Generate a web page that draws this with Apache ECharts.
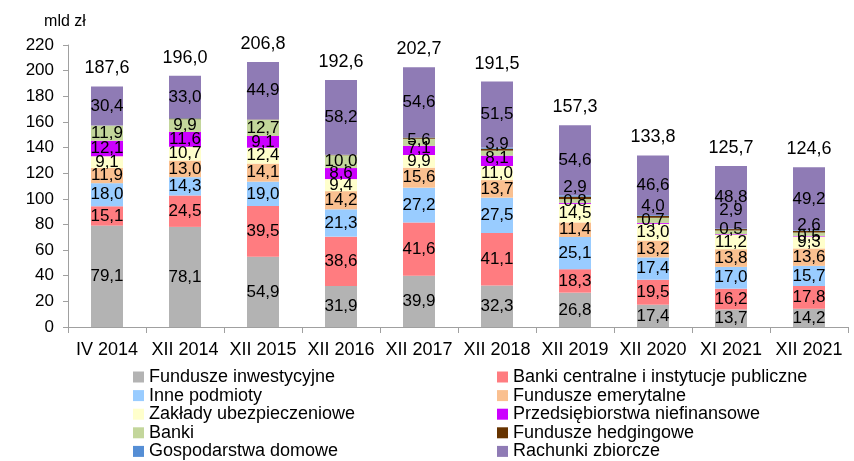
<!DOCTYPE html>
<html>
<head>
<meta charset="utf-8">
<script src="https://cdn.jsdelivr.net/npm/echarts@6/dist/echarts.min.js"></script>
<style>
html,body{margin:0;padding:0;background:#fff;}
#chart{width:854px;height:461px;}
</style>
</head>
<body>
<div id="chart"></div>
<script>
const categories = ['IV 2014','XII 2014','XII 2015','XII 2016','XII 2017','XII 2018','XII 2019','XII 2020','XI 2021','XII 2021'];
const fundInwest   = [79.1, 78.1, 54.9, 31.9, 39.9, 32.3, 26.8, 17.4, 13.7, 14.2];
const bankiCentr   = [15.1, 24.5, 39.5, 38.6, 41.6, 41.1, 18.3, 19.5, 16.2, 17.8];
const innePodm     = [18.0, 14.3, 19.0, 21.3, 27.2, 27.5, 25.1, 17.4, 17.0, 15.7];
const fundEmer     = [11.9, 13.0, 14.1, 14.2, 15.6, 13.7, 11.4, 13.2, 13.8, 13.6];
const zaklUbezp    = [9.1, 10.7, 12.4, 9.4, 9.9, 11.0, 14.5, 13.0, 11.2, 9.3];
const przedsNiefin = [12.1, 11.6, 9.1, 8.6, 7.1, 8.1, 0.8, 0.7, 0.5, 0.5];
const banki        = [11.9, 9.9, 12.7, 10.0, 5.6, 3.9, 2.9, 4.0, 2.9, 2.6];
const fundHedg     = [0.0, 0.6, 0.2, 0.3, 0.9, 1.5, 1.9, 1.4, 1.1, 1.2];
const gospDom      = [0.0, 0.3, 0.0, 0.1, 0.3, 0.9, 1.0, 0.6, 0.5, 0.5];
const rachZbior    = [30.4, 33.0, 44.9, 58.2, 54.6, 51.5, 54.6, 46.6, 48.8, 49.2];
const totals       = [187.6, 196.0, 206.8, 192.6, 202.7, 191.5, 157.3, 133.8, 125.7, 124.6];
const yTicks = [0, 20, 40, 60, 80, 100, 120, 140, 160, 180, 200, 220];

// label nudges (pixels) for crowded small segments, as placed in the original
const bankiLabelShift  = [0, 0, 0, 0, -2, -9, -14, -14, -22, -9];
const przedsLabelShift = [0, 0, 0, 0, -2, -2, -2, -3, -5, 0];

const FONT = 'Liberation Sans, Arial, sans-serif';
const fmt = v => v.toFixed(1).replace('.', ',');

function mk(name, data, color, showLabel, shifts) {
  return {
    name: name, type: 'bar', stack: 'a', barWidth: 32,
    data: data.map((v, i) => shifts && shifts[i] ? { value: v, label: { offset: [0, shifts[i]] } } : v),
    itemStyle: { color: color },
    label: {
      show: showLabel, position: 'inside', color: '#000',
      fontFamily: FONT, fontSize: 17,
      formatter: p => fmt(p.value)
    },
    emphasis: { disabled: true }
  };
}

const series = [
  mk('Fundusze inwestycyjne', fundInwest, '#b3b3b3', true),
  mk('Banki centralne i instytucje publiczne', bankiCentr, '#ff7c80', true),
  mk('Inne podmioty', innePodm, '#99ccff', true),
  mk('Fundusze emerytalne', fundEmer, '#fac090', true),
  mk('Zakłady ubezpieczeniowe', zaklUbezp, '#ffffcc', true),
  mk('Przedsiębiorstwa niefinansowe', przedsNiefin, '#cc00ff', true, przedsLabelShift),
  mk('Banki', banki, '#c3d69b', true, bankiLabelShift),
  mk('Fundusze hedgingowe', fundHedg, '#663300', false),
  mk('Gospodarstwa domowe', gospDom, '#558ed5', false),
  mk('Rachunki zbiorcze', rachZbior, '#8f7bb5', true),
  {
    name: 'Suma', type: 'bar', stack: 'a', barWidth: 32,
    data: totals.map(() => 0),
    itemStyle: { color: 'transparent' },
    label: {
      show: true, position: 'top', distance: 9, color: '#000',
      fontFamily: FONT, fontSize: 18,
      formatter: p => fmt(totals[p.dataIndex])
    },
    emphasis: { disabled: true }
  }
];

const legendText = { fontFamily: FONT, fontSize: 18, color: '#000', lineHeight: 18 };
const chart = echarts.init(document.getElementById('chart'), null, { renderer: 'canvas' });
chart.setOption({
  animation: false,
  backgroundColor: '#fff',
  grid: { left: 68, right: 6, top: 45, bottom: 134 },
  legend: [
    {
      orient: 'vertical', left: 133, top: 368, itemWidth: 11, itemHeight: 11, itemGap: 0.6,
      icon: 'rect', textStyle: legendText, padding: 0,
      data: ['Fundusze inwestycyjne', 'Inne podmioty', 'Zakłady ubezpieczeniowe', 'Banki', 'Gospodarstwa domowe'],
      selectedMode: false
    },
    {
      orient: 'vertical', left: 497, top: 368, itemWidth: 11, itemHeight: 11, itemGap: 0.6,
      icon: 'rect', textStyle: legendText, padding: 0,
      data: ['Banki centralne i instytucje publiczne', 'Fundusze emerytalne', 'Przedsiębiorstwa niefinansowe', 'Fundusze hedgingowe', 'Rachunki zbiorcze'],
      selectedMode: false
    }
  ],
  xAxis: {
    type: 'category', data: categories,
    axisLine: { lineStyle: { color: '#a0a0a0' } },
    axisTick: { show: true, length: 6, alignWithLabel: false, lineStyle: { color: '#a0a0a0' } },
    axisLabel: { color: '#000', fontFamily: FONT, fontSize: 18, margin: 14, interval: 0 }
  },
  yAxis: {
    type: 'value', min: yTicks[0], max: yTicks[yTicks.length - 1], interval: 20,
    name: 'mld zł', nameLocation: 'end', nameGap: 15,
    nameTextStyle: { color: '#000', fontFamily: FONT, fontSize: 16, align: 'center', padding: [0, 6, 0, 0] },
    axisLine: { show: true, lineStyle: { color: '#a0a0a0' } },
    axisTick: { show: true, length: 5, lineStyle: { color: '#a0a0a0' } },
    axisLabel: { color: '#000', fontFamily: FONT, fontSize: 17, margin: 14 },
    splitLine: { show: false }
  },
  series: series
});
</script>
</body>
</html>
